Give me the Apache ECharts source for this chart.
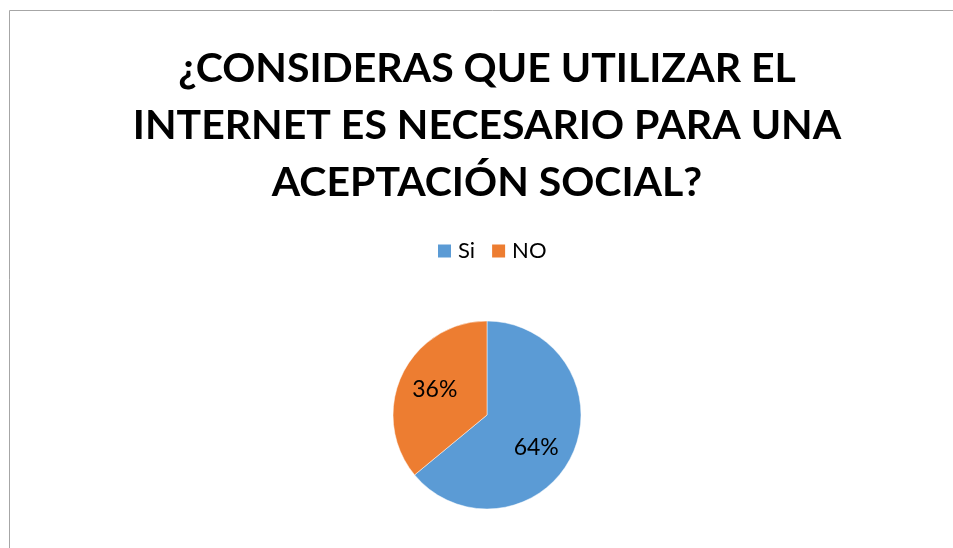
<!DOCTYPE html>
<html>
<head>
<meta charset="utf-8">
<script src="https://cdn.jsdelivr.net/npm/echarts@6/dist/echarts.min.js"></script>
<style>
html,body{margin:0;padding:0;background:#fff;overflow:hidden;width:953px;height:548px;}
#c{position:absolute;left:0;top:0;width:974px;height:548px;}
</style>
</head>
<body>
<div id="c"></div>
<script>
const titleLines = ['¿CONSIDERAS QUE UTILIZAR EL', 'INTERNET ES NECESARIO PARA UNA', 'ACEPTACIÓN SOCIAL?'];
const categories = ['Si', 'NO'];
const values = [64, 36];
const colors = ['#5B9BD5', '#ED7D31'];
const labelOffsets = [[4, 11], [-7, -4]];

const chart = echarts.init(document.getElementById('c'), null, {renderer: 'canvas'});
chart.setOption({
  backgroundColor: '#fff',
  animation: false,
  graphic: [{
    type: 'rect',
    shape: {x: 9.5, y: 10.5, width: 1100, height: 700},
    style: {fill: 'none', stroke: '#a6a6a6', lineWidth: 1},
    silent: true
  }],
  title: {
    text: titleLines.join('\n'),
    left: 'center',
    top: 35,
    textStyle: {
      fontFamily: 'Lato',
      fontWeight: 'bold',
      fontSize: 41,
      lineHeight: 57,
      color: '#000'
    }
  },
  legend: {
    data: categories,
    left: 431,
    top: 235,
    itemWidth: 15,
    itemHeight: 15,
    itemGap: 15,
    icon: 'rect',
    textStyle: {fontFamily: 'Lato', fontSize: 22, color: '#000', padding: [0, 0, 0, 1]}
  },
  series: [{
    type: 'pie',
    center: [487, 415],
    radius: 94,
    startAngle: 90,
    clockwise: true,
    itemStyle: {borderColor: '#fff', borderWidth: 0.5},
    label: {
      show: true,
      position: 'inside',
      formatter: '{d}%',
      fontFamily: 'Lato',
      fontSize: 23,
      color: '#000'
    },
    labelLine: {show: false},
    emphasis: {disabled: true},
    data: categories.map((n, i) => ({
      name: n,
      value: values[i],
      itemStyle: {color: colors[i]},
      label: {offset: labelOffsets[i]}
    }))
  }]
});
</script>
</body>
</html>
